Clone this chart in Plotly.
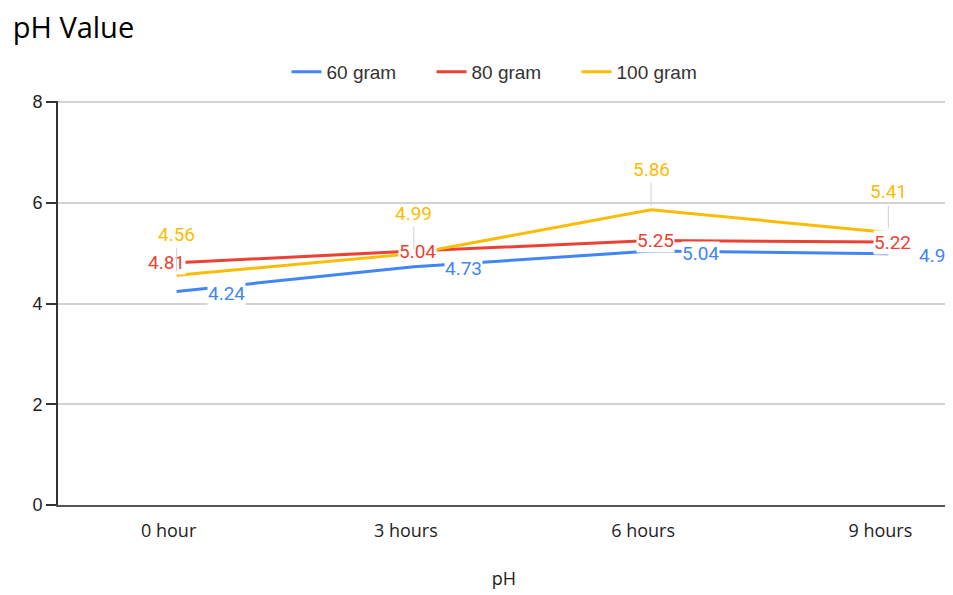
import plotly.graph_objects as go

categories = ["0 hour", "3 hours", "6 hours", "9 hours"]
series_names = ["60 gram", "80 gram", "100 gram"]
ph_60 = [4.24, 4.73, 5.04, 4.99]
ph_80 = [4.81, 5.04, 5.25, 5.22]
ph_100 = [4.56, 4.99, 5.86, 5.41]
y_ticks = [0, 2, 4, 6, 8]

colors = ["#4285F4", "#EA4335", "#FBBC04"]
all_values = [ph_60, ph_80, ph_100]

fig = go.Figure()
for name, vals, col in zip(series_names, all_values, colors):
    fig.add_trace(go.Scatter(x=categories, y=vals, mode="lines", name=name,
                             line=dict(color=col, width=3)))

LABEL_FONT = "Roboto"
annotations = []
# 60 gram labels: right of the point (last label cut by the chart edge)
for c, v in zip(categories, ph_60):
    txt = f"{v:.2f}" if c != categories[-1] else f"{v:.2f}"[:3]
    annotations.append(dict(x=c, y=v, text=txt,
                            showarrow=False, xanchor="left", xshift=30, yshift=-2,
                            font=dict(color=colors[0], size=19, family=LABEL_FONT),
                            bgcolor="white", borderpad=0))
# 80 gram labels: centred on the point
for i, (c, v) in enumerate(zip(categories, ph_80)):
    annotations.append(dict(x=c, y=v, text=f"{v:.2f}", showarrow=False,
                            xshift=-10 if i == 0 else 4,
                            font=dict(color=colors[1], size=19, family=LABEL_FONT),
                            bgcolor="white", borderpad=0))
# 100 gram labels: above with leader line
for c, v in zip(categories, ph_100):
    annotations.append(dict(x=c, y=v, text=f"{v:.2f}", showarrow=True, arrowhead=0,
                            arrowwidth=1, arrowcolor="#d0d0d0", ax=0, ay=-27,
                            yanchor="bottom", standoff=4,
                            font=dict(color=colors[2], size=19, family=LABEL_FONT)))

fig.update_layout(
    width=945, height=587,
    margin=dict(l=50, r=3, t=93, b=90, autoexpand=False),
    paper_bgcolor="white", plot_bgcolor="white",
    font=dict(family="Liberation Sans", color="#222222", size=16),
    title=dict(text="pH Value", x=0.005, xref="container", xanchor="left",
               y=0.984, yanchor="top", pad=dict(l=0, t=0, b=0, r=0),
               font=dict(family="Open Sans", size=29, color="black")),
    legend=dict(orientation="h", x=0.5, xanchor="center", y=1.072, yanchor="middle",
                font=dict(size=19, color="#333333", family="Liberation Sans"), itemwidth=30,
                entrywidth=100, entrywidthmode="pixels"),
    annotations=annotations,
    showlegend=True,
)
fig.update_xaxes(range=[-0.5, 3.26], showgrid=False, showline=True, linecolor="#555555",
                 linewidth=2, ticks="", tickfont=dict(size=18, color="#222222", family="Open Sans"),
                 ticklabelstandoff=8, ticklabelshift=-8,
                 title=dict(text="pH", font=dict(size=18, color="#222222", family="Open Sans"),
                            standoff=32))
fig.update_yaxes(range=[0, 8.02], tickvals=y_ticks, showgrid=True, gridcolor="#d3d3d3",
                 gridwidth=1.5, showline=True, linecolor="#333333", linewidth=2,
                 ticks="outside", ticklen=10, tickwidth=2, tickcolor="#333333",
                 tickfont=dict(size=18, color="#222222"), zeroline=False)

fig.write_html("out.html")
